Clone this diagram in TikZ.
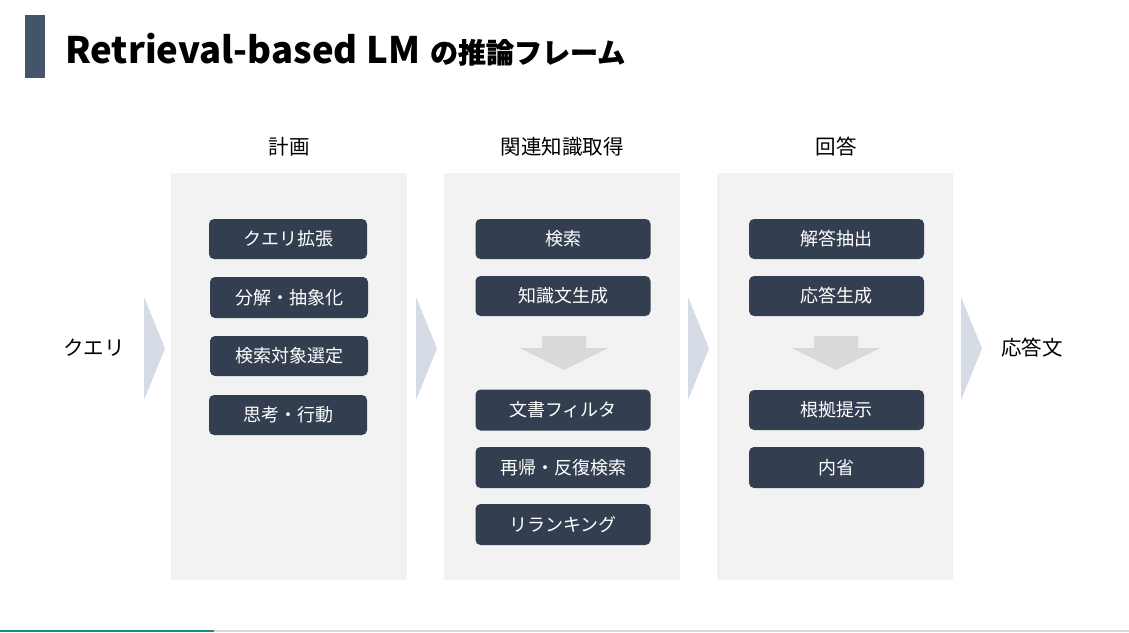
\documentclass[tikz,border=0pt]{standalone}
\usepackage{fontspec}
\setmainfont{Noto Sans CJK JP}
\newfontfamily\jpfont{Noto Sans CJK JP}
\newfontfamily\jpmedium{Noto Sans CJK JP}[FakeBold=0.6]
\definecolor{barc}{HTML}{44546A}
\definecolor{boxc}{HTML}{333F50}
\definecolor{chev}{HTML}{D6DCE5}
\definecolor{colbg}{HTML}{F2F2F2}
\definecolor{darr}{HTML}{D9D9D9}
\definecolor{teal}{HTML}{1F8A80}
\tikzset{
  stepbox/.style={fill=boxc, rounded corners=5pt, text=white, font=\jpfont\fontsize{18}{20}\selectfont, inner sep=0pt},
  colbox/.style={fill=colbg, draw=none},
  chevron/.style={fill=chev, draw=none},
  downarr/.style={fill=darr, draw=none},
  header/.style={font=\jpfont\fontsize{20.5}{24}\selectfont, inner sep=0pt},
}
\begin{document}
\begin{tikzpicture}[x=1pt,y=-1pt]
\useasboundingbox (0,0) rectangle (1129,632);
\fill[white] (0,0) rectangle (1129,632);
% title
\fill[barc] (25,15) rectangle (45,78);
\node[anchor=base west, inner sep=0pt, font=\fontsize{36.5}{40}\selectfont\bfseries] (title) at (65,63) {Retrieval-based LM\hspace{10pt}{\jpmedium\fontsize{28}{30}\selectfont の推論フレーム}};
% columns
\fill[colbox] (171,173) rectangle (407,580);
\fill[colbox] (444,173) rectangle (680,580);
\fill[colbox] (717,173) rectangle (953,580);
\node[header] (h1) at (289,147) {計画};
\node[header] (h2) at (562,147) {関連知識取得};
\node[header] (h3) at (836,147) {回答};
% chevrons
\foreach \x in {144,416,688,961}{
  \fill[chevron] (\x,297) -- (\x+21,348.5) -- (\x,400) -- cycle;
}
\node[header] (q) at (94,348) {クエリ};
\node[header] (ans) at (1032,348) {応答文};
% column 1
\node[stepbox, minimum width=158pt, minimum height=40pt] (a1) at (288,239) {クエリ拡張};
\node[stepbox, minimum width=158pt, minimum height=41pt] (a2) at (289,297.5) {分解・抽象化};
\node[stepbox, minimum width=158pt, minimum height=40pt] (a3) at (289,356) {検索対象選定};
\node[stepbox, minimum width=158pt, minimum height=40pt] (a4) at (288,415) {思考・行動};
% column 2
\node[stepbox, minimum width=175pt, minimum height=40pt] (b1) at (563,239) {検索};
\node[stepbox, minimum width=175pt, minimum height=40pt] (b2) at (563,296) {知識文生成};
\node[stepbox, minimum width=175pt, minimum height=41pt] (b3) at (563,410) {文書フィルタ};
\node[stepbox, minimum width=175pt, minimum height=41pt] (b4) at (563,467.5) {再帰・反復検索};
\node[stepbox, minimum width=175pt, minimum height=41pt] (b5) at (563,524.5) {リランキング};
% column 3
\node[stepbox, minimum width=175pt, minimum height=40pt] (c1) at (836.5,239) {解答抽出};
\node[stepbox, minimum width=175pt, minimum height=40pt] (c2) at (836.5,296) {応答生成};
\node[stepbox, minimum width=175pt, minimum height=40pt] (c3) at (836.5,410) {根拠提示};
\node[stepbox, minimum width=175pt, minimum height=41pt] (c4) at (836.5,467.5) {内省};
% down arrows
\foreach \cx in {564,836}{
  \fill[downarr] (\cx-22,336) -- (\cx+22,336) -- (\cx+22,348) -- (\cx+44,348) -- (\cx,370) -- (\cx-44,348) -- (\cx-22,348) -- cycle;
}
% bottom progress line
\fill[darr] (0,630) rectangle (1129,632);
\fill[teal] (0,630) rectangle (214,632);
\end{tikzpicture}
\end{document}
